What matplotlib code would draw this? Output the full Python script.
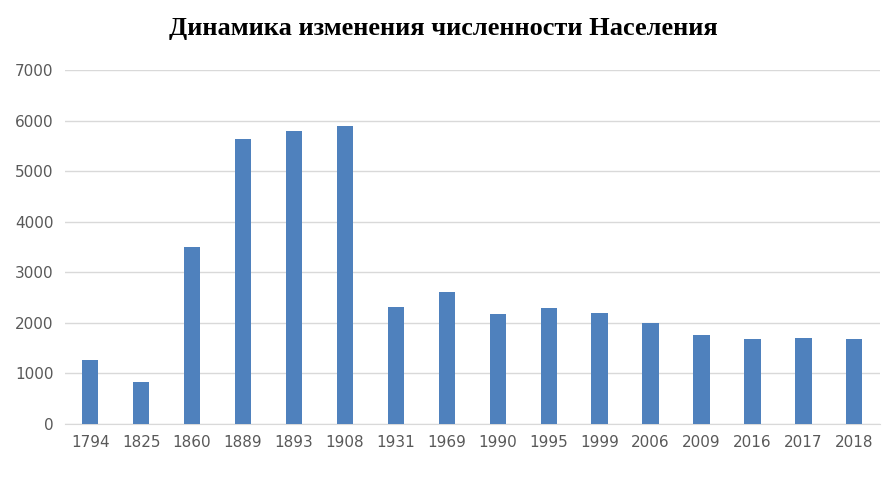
import matplotlib.pyplot as plt

years = ['1794', '1825', '1860', '1889', '1893', '1908', '1931', '1969',
         '1990', '1995', '1999', '2006', '2009', '2016', '2017', '2018']
population = [1270, 830, 3500, 5640, 5800, 5890, 2320, 2600,
              2180, 2300, 2200, 2000, 1760, 1670, 1700, 1670]

fig = plt.figure(figsize=(8.86, 4.8), dpi=100)
ax = fig.add_axes([0.073, 0.117, 0.92, 0.737])

ax.bar(range(len(years)), population, width=0.32, color='#4f81bd', zorder=3)
ax.set_xticks(range(len(years)))
ax.set_xticklabels(years)
ax.set_xlim(-0.5, len(years) - 0.5)
ax.set_ylim(0, 7000)
ax.set_yticks(range(0, 7001, 1000))
ax.grid(axis='y', color='#d9d9d9', linewidth=1, zorder=0)
for s in ['top', 'right', 'left']:
    ax.spines[s].set_visible(False)
ax.spines['bottom'].set_color('#d9d9d9')
ax.tick_params(length=0, labelsize=11, colors='#595959', pad=8)

fig.suptitle('Динамика изменения численности Населения', y=0.965,
             fontsize=19, fontweight='bold', family='Liberation Serif')

fig.savefig('out.png')
